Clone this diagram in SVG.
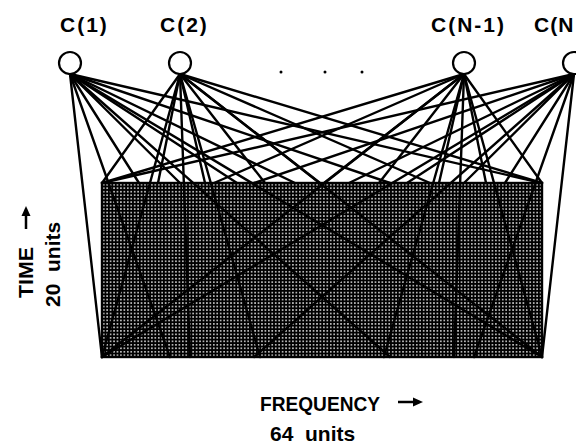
<svg xmlns="http://www.w3.org/2000/svg" width="576" height="445" viewBox="0 0 576 445">
<defs>
<style>
.lbl{font-family:"Liberation Sans",Arial,sans-serif;font-weight:bold;fill:#000}
.top{font-size:21px;letter-spacing:2px}
.ax{font-size:21px}
.node{fill:#fff;stroke:#000;stroke-width:2.2}
.con line{stroke:#000;stroke-width:2.4;stroke-linecap:round}
</style>
<pattern id="grid" patternUnits="userSpaceOnUse" x="102" y="183" width="3.44" height="3.48">
<rect width="3.44" height="3.48" fill="#000"/>
<rect x="1" y="1" width="1.45" height="1.45" fill="#fff"/>
</pattern>
</defs>
<rect width="576" height="445" fill="#fff"/>

<g id="tf-grid">
<rect x="102" y="183" width="440" height="174" fill="url(#grid)" stroke="#000" stroke-width="2.4"/>
</g>

<g id="connectors" class="con">
<!-- C(1) -->
<line x1="70" y1="74" x2="102" y2="357"/>
<line x1="70" y1="74" x2="170" y2="357"/>
<line x1="70" y1="74" x2="139" y2="183"/>
<line x1="70" y1="74" x2="180" y2="183"/>
<line x1="70" y1="74" x2="237" y2="183"/>
<line x1="70" y1="74" x2="295" y2="183"/>
<line x1="70" y1="74" x2="390" y2="183"/>
<line x1="70" y1="74" x2="542" y2="183"/>
<line x1="70" y1="74" x2="542" y2="357"/>
<line x1="70" y1="74" x2="390" y2="357"/>
<!-- C(2) -->
<line x1="180" y1="74" x2="102" y2="183"/>
<line x1="180" y1="74" x2="102" y2="357"/>
<line x1="180" y1="74" x2="158" y2="183"/>
<line x1="180" y1="74" x2="205" y2="183"/>
<line x1="180" y1="74" x2="265" y2="183"/>
<line x1="180" y1="74" x2="320" y2="183"/>
<line x1="180" y1="74" x2="430" y2="183"/>
<line x1="180" y1="74" x2="542" y2="183"/>
<line x1="180" y1="74" x2="542" y2="357"/>
<line x1="180" y1="74" x2="260" y2="357"/>
<line x1="180" y1="74" x2="190" y2="357"/>
<!-- C(N-1) -->
<line x1="464" y1="74" x2="542" y2="183"/>
<line x1="464" y1="74" x2="542" y2="357"/>
<line x1="464" y1="74" x2="486" y2="183"/>
<line x1="464" y1="74" x2="439" y2="183"/>
<line x1="464" y1="74" x2="379" y2="183"/>
<line x1="464" y1="74" x2="324" y2="183"/>
<line x1="464" y1="74" x2="214" y2="183"/>
<line x1="464" y1="74" x2="102" y2="183"/>
<line x1="464" y1="74" x2="102" y2="357"/>
<line x1="464" y1="74" x2="384" y2="357"/>
<line x1="464" y1="74" x2="454" y2="357"/>
<!-- C(N) -->
<line x1="574" y1="74" x2="542" y2="357"/>
<line x1="574" y1="74" x2="474" y2="357"/>
<line x1="574" y1="74" x2="505" y2="183"/>
<line x1="574" y1="74" x2="464" y2="183"/>
<line x1="574" y1="74" x2="407" y2="183"/>
<line x1="574" y1="74" x2="349" y2="183"/>
<line x1="574" y1="74" x2="254" y2="183"/>
<line x1="574" y1="74" x2="102" y2="183"/>
<line x1="574" y1="74" x2="102" y2="357"/>
<line x1="574" y1="74" x2="254" y2="357"/>
</g>

<g id="c1">
<circle class="node" cx="70" cy="63" r="11"/>
<text class="lbl top" x="60" y="32">C(1)</text>
</g>
<g id="c2">
<circle class="node" cx="180" cy="63" r="11"/>
<text class="lbl top" x="160" y="32">C(2)</text>
</g>
<g id="ellipsis">
<circle cx="281" cy="72" r="1.5" fill="#000"/>
<circle cx="325" cy="72" r="1.5" fill="#000"/>
<circle cx="362" cy="72" r="1.5" fill="#000"/>
</g>
<g id="cn1">
<circle class="node" cx="464" cy="63" r="11"/>
<text class="lbl top" x="431" y="32">C(N-1)</text>
</g>
<g id="cn">
<circle class="node" cx="574" cy="63" r="11"/>
<text class="lbl top" x="534" y="32" style="letter-spacing:1px">C(N</text>
</g>

<g id="time-axis">
<text class="lbl ax" transform="translate(33,298) rotate(-90)" textLength="51" lengthAdjust="spacingAndGlyphs">TIME</text>
<line x1="26" y1="229" x2="26" y2="214" stroke="#000" stroke-width="2.5"/>
<polygon points="26,206 21.5,216 30.5,216" fill="#000"/>
<text class="lbl ax" transform="translate(60,307) rotate(-90)" xml:space="preserve">20  units</text>
</g>

<g id="freq-axis">
<text class="lbl ax" x="260" y="411" textLength="120" lengthAdjust="spacingAndGlyphs">FREQUENCY</text>
<line x1="398" y1="402" x2="414" y2="402" stroke="#000" stroke-width="2.5"/>
<polygon points="423,402 413,397.5 413,406.5" fill="#000"/>
<text class="lbl ax" x="270" y="441" xml:space="preserve">64  units</text>
</g>
</svg>
